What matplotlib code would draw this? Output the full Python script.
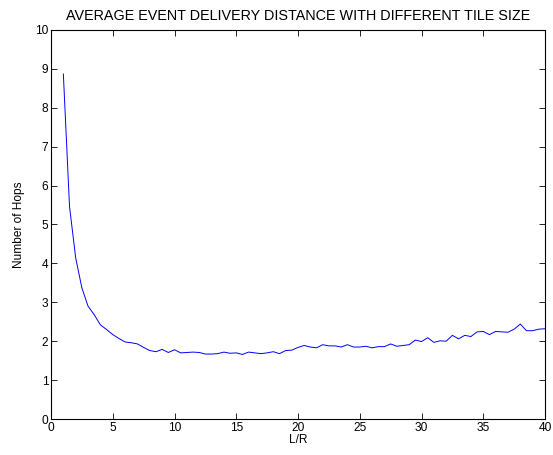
import numpy as np
import matplotlib
matplotlib.use("Agg")
import matplotlib.pyplot as plt

# L/R ratio sampled every 0.5 from 1 to 40
lr_ratio = np.arange(1.0, 40.01, 0.5)

# average number of hops
hops = [
    8.87, 5.46, 4.14, 3.37, 2.90, 2.68, 2.42, 2.30, 2.17, 2.07,
    1.98, 1.96, 1.93, 1.84, 1.76, 1.73, 1.79, 1.71, 1.78, 1.70,
    1.71, 1.72, 1.71, 1.67, 1.67, 1.68, 1.72, 1.69, 1.70, 1.66,
    1.72, 1.70, 1.68, 1.70, 1.73, 1.68, 1.76, 1.77, 1.84, 1.89,
    1.85, 1.83, 1.91, 1.88, 1.88, 1.85, 1.91, 1.85, 1.85, 1.87,
    1.83, 1.86, 1.86, 1.93, 1.87, 1.89, 1.91, 2.03, 1.99, 2.09,
    1.97, 2.01, 2.00, 2.15, 2.06, 2.15, 2.12, 2.24, 2.25, 2.17,
    2.25, 2.24, 2.23, 2.31, 2.44, 2.27, 2.27, 2.31, 2.32,
]

x_ticks = [0, 5, 10, 15, 20, 25, 30, 35, 40]
y_ticks = list(range(0, 11))

plt.rcParams['font.family'] = ['Liberation Sans', 'DejaVu Sans']
plt.rcParams['font.size'] = 8.6

fig = plt.figure(figsize=(5.53, 4.55), dpi=100)
ax = fig.add_axes([51 / 553, 1 - 419 / 455, 494 / 553, 389 / 455])

ax.plot(lr_ratio, hops, color='blue', linewidth=0.7)

ax.set_xlim(0, 40)
ax.set_ylim(0, 10)
ax.set_xticks(x_ticks)
ax.set_yticks(y_ticks)
ax.tick_params(direction='in', top=True, right=True, length=4, width=0.6, pad=2)
for spine in ax.spines.values():
    spine.set_linewidth(0.8)

ax.set_xlabel('L/R', labelpad=0)
ax.set_ylabel('Number of Hops', labelpad=7)
ax.set_title('AVERAGE EVENT DELIVERY DISTANCE WITH DIFFERENT TILE SIZE', pad=7)

fig.savefig('out.png', dpi=100)
